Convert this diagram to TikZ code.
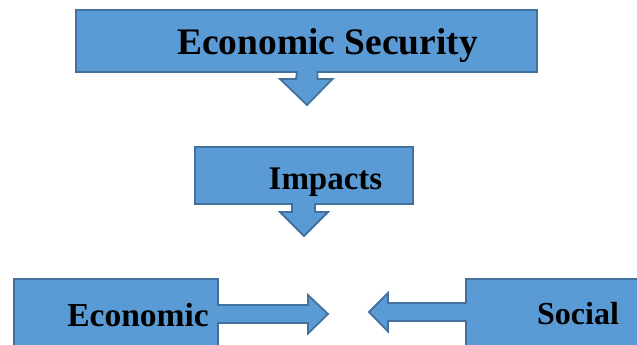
\documentclass[tikz,border=0pt]{standalone}
\usepackage{fontspec}
\setmainfont{Liberation Serif}
\usepackage{tikz}
\usetikzlibrary{positioning,calc}
\usepackage{xcolor}
\definecolor{boxblue}{RGB}{91, 155, 213}
\definecolor{boxedge}{RGB}{65, 113, 156}

\begin{document}
\begin{tikzpicture}[
    x=1pt, y=-1pt,
    boxnode/.style={rectangle, inner sep=0pt, outer sep=0pt},
    callout/.style={fill=boxblue, draw=boxedge, line width=1.8pt, line join=miter},
    labeltext/.style={font=\bfseries, text=black, inner sep=0pt, anchor=base}
]
    \clip (0,0) rectangle (637,345);
    \useasboundingbox (0,0) rectangle (637,345);

    % Economic Security
    \node[boxnode, minimum width=461pt, minimum height=62pt] (sec) at (306.5,41) {};
    \draw[callout] (sec.north west) -- (sec.north east) -- (sec.south east)
        -- ($(sec.south)+(11,0)$) -- ++(0,7) -- ++(15,0) -- ($(sec.south)+(0.5,33)$)
        -- ($(sec.south)+(-26.5,7)$) -- ++(16,0) -- ($(sec.south)+(-9.5,0)$)
        -- (sec.south west) -- cycle;
    \node[labeltext, font=\bfseries\fontsize{37.5}{42}\selectfont] (secl) at (327.5,55) {Economic Security};

    % Impacts
    \node[boxnode, minimum width=218pt, minimum height=57pt] (imp) at (304,175.5) {};
    \draw[callout] (imp.north west) -- (imp.north east) -- (imp.south east)
        -- ($(imp.south)+(11,0)$) -- ++(0,8) -- ++(13,0) -- ($(imp.south)+(0,32)$)
        -- ($(imp.south)+(-24,8)$) -- ++(12,0) -- ($(imp.south)+(-12,0)$)
        -- (imp.south west) -- cycle;
    \node[labeltext, font=\bfseries\fontsize{33}{38}\selectfont] (impl) at (325.5,189) {Impacts};

    % Economic
    \node[boxnode, minimum width=204pt, minimum height=81pt] (eco) at (116,319.5) {};
    \draw[callout] (eco.north west) -- (eco.north east) -- ($(eco.east)+(0,-14.5)$)
        -- ++(90,0) -- ++(0,-10) -- ($(eco.east)+(110,-5.5)$) -- ++(-20,19.5)
        -- ++(0,-10.5) -- ++(-90,0) -- (eco.south east) -- (eco.south west) -- cycle;
    \node[labeltext, font=\bfseries\fontsize{33.5}{38}\selectfont] (ecol) at (138,326) {Economic};

    % Social
    \node[boxnode, minimum width=190pt, minimum height=81pt] (soc) at (561,319.5) {};
    \draw[callout] (soc.north east) -- (soc.north west) -- ($(soc.west)+(0,-16.5)$)
        -- ++(-78,0) -- ++(0,-10) -- ($(soc.west)+(-97,-7.5)$) -- ++(19,19.5)
        -- ++(0,-10.5) -- ++(78,0) -- (soc.south west) -- (soc.south east) -- cycle;
    \node[labeltext, font=\bfseries\fontsize{32}{36}\selectfont] (socl) at (578,324) {Social};
\end{tikzpicture}
\end{document}
